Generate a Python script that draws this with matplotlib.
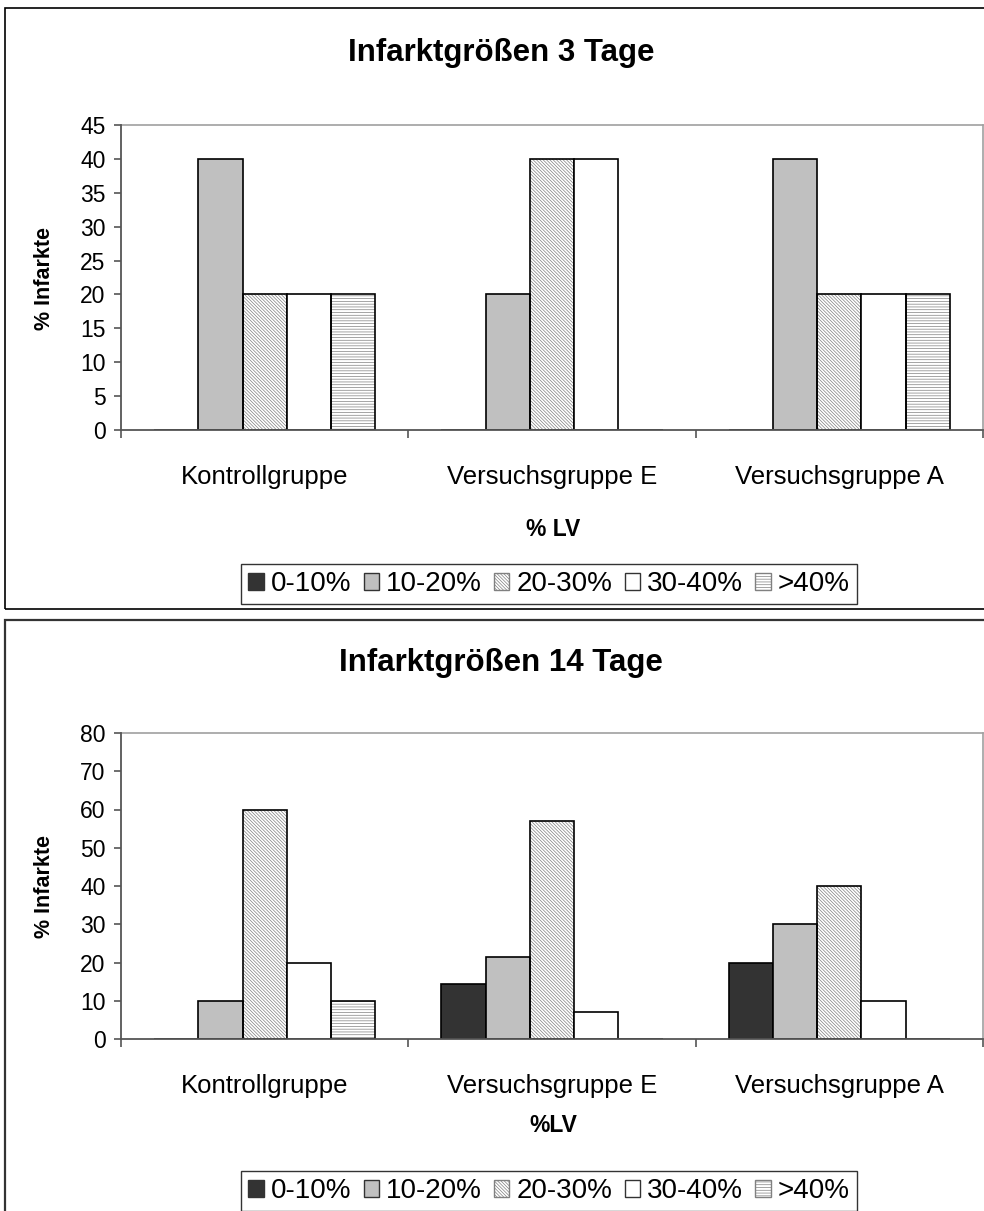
import matplotlib
matplotlib.use("Agg")
import matplotlib.pyplot as plt
from matplotlib.patches import Patch, Rectangle
import numpy as np

plt.rcParams['font.family'] = ['Liberation Sans', 'DejaVu Sans']
plt.rcParams['hatch.linewidth'] = 0.5

groups = ["Kontrollgruppe", "Versuchsgruppe E", "Versuchsgruppe A"]
classes = ["0-10%", "10-20%", "20-30%", "30-40%", ">40%"]

# percentage of infarcts per size class, 3 days
day3 = {
    "0-10%": [0, 0, 0],
    "10-20%": [40, 20, 40],
    "20-30%": [20, 40, 20],
    "30-40%": [20, 40, 20],
    ">40%": [20, 0, 20],
}
# percentage of infarcts per size class, 14 days
day14 = {
    "0-10%": [0, 14.3, 20],
    "10-20%": [10, 21.4, 30],
    "20-30%": [60, 57.1, 40],
    "30-40%": [20, 7.1, 10],
    ">40%": [10, 0, 0],
}

face = {"0-10%": "#333333", "10-20%": "#c0c0c0", "20-30%": "white",
        "30-40%": "white", ">40%": "white"}
hatch = {"0-10%": None, "10-20%": None, "20-30%": "\\" * 10,
         "30-40%": None, ">40%": "------"}
hatch_col = "#808080"

W, H = 984, 1211
fig = plt.figure(figsize=(W / 100, H / 100), dpi=100)


def fx(px):
    return px / W


def fy(py):
    return 1 - py / H


def draw(ax, data, ymax, ystep):
    n = len(classes)
    bw = 1 / 6.5
    xc = np.arange(len(groups)) + 0.5
    for i, c in enumerate(classes):
        x = xc + (i - (n - 1) / 2) * bw
        vals = data[c]
        if hatch[c]:
            ax.bar(x, vals, width=bw, facecolor=face[c], edgecolor=hatch_col,
                   hatch=hatch[c], linewidth=0, zorder=2)
            ax.bar(x, vals, width=bw, facecolor="none", edgecolor="black",
                   linewidth=1.2, zorder=3)
        else:
            ax.bar(x, vals, width=bw, facecolor=face[c], edgecolor="black",
                   linewidth=1.2, zorder=3)
    ax.set_xlim(0, len(groups))
    ax.set_ylim(0, ymax)
    ax.set_yticks(np.arange(0, ymax + 0.1, ystep))
    ax.set_xticks([0, 1, 2, 3])
    ax.set_xticklabels([])
    ax.set_xticks(xc, minor=True)
    ax.set_xticklabels(groups, minor=True, fontsize=18.5)
    ax.tick_params(axis="x", which="major", length=6, width=1.2,
                   color="#555555", direction="out")
    ax.tick_params(axis="x", which="minor", length=0, pad=25)
    ax.tick_params(axis="y", length=5, width=1.2, color="#555555",
                   labelsize=16.5, pad=6)
    for s in ("left", "bottom"):
        ax.spines[s].set_color("#555555")
        ax.spines[s].set_linewidth(1.3)
        ax.spines[s].set_zorder(4)
    for s in ("top", "right"):
        ax.spines[s].set_color("#a0a0a0")
        ax.spines[s].set_linewidth(1.2)


ax1 = fig.add_axes([fx(121), fy(430), fx(862), 305 / H])
draw(ax1, day3, 45, 5)
ax2 = fig.add_axes([fx(121), fy(1039), fx(862), 306 / H])
draw(ax2, day14, 80, 10)

# chart frames
fig.patches.append(Rectangle((fx(5), fy(609)), fx(1000), 601 / H,
                             transform=fig.transFigure, fill=False,
                             edgecolor="black", linewidth=1.2))
fig.patches.append(Rectangle((fx(5), fy(1240)), fx(1000), 620 / H,
                             transform=fig.transFigure, fill=False,
                             edgecolor="#333333", linewidth=1.6))

fig.text(fx(501), fy(53), "Infarktgrößen 3 Tage", ha="center", va="center",
         fontsize=22.5, fontweight="bold")
fig.text(fx(501), fy(663), "Infarktgrößen 14 Tage", ha="center", va="center",
         fontsize=22.5, fontweight="bold")
fig.text(fx(45), fy(278), "% Infarkte", ha="center", va="center",
         rotation=90, fontsize=15.5, fontweight="bold")
fig.text(fx(45), fy(886), "% Infarkte", ha="center", va="center",
         rotation=90, fontsize=15.5, fontweight="bold")
fig.text(fx(553), fy(529), "% LV", ha="center", va="center",
         fontsize=16.5, fontweight="bold")
fig.text(fx(553), fy(1125), "%LV", ha="center", va="center",
         fontsize=16.5, fontweight="bold")

handles = [Patch(facecolor=face[c], edgecolor="#333333" if not hatch[c] else hatch_col,
                 hatch=hatch[c], linewidth=1.0, label=c) for c in classes]
for yc in (584, 1191):
    leg = fig.legend(handles=handles, loc="center", ncol=5,
                     bbox_to_anchor=(fx(549), fy(yc)), fontsize=20,
                     frameon=True, fancybox=False, edgecolor="black",
                     handlelength=0.55, handleheight=0.55, handletextpad=0.25,
                     columnspacing=0.45, borderpad=0.25, borderaxespad=0)
    leg.get_frame().set_linewidth(1.0)

fig.savefig("out.png", dpi=100, facecolor="white")
